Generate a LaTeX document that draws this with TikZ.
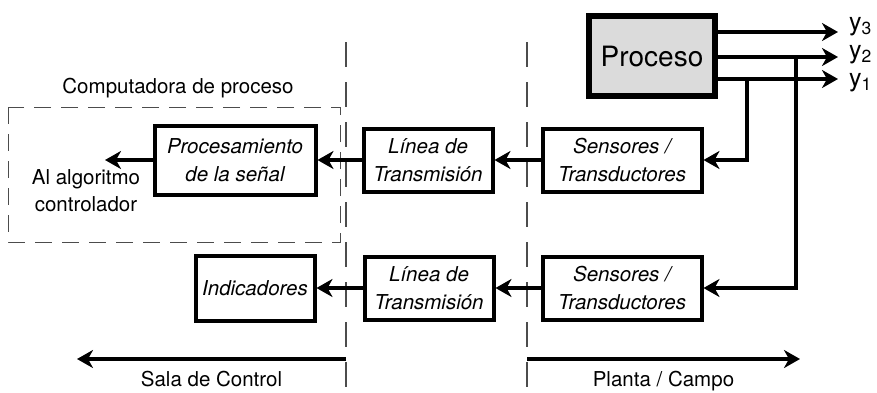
\documentclass[tikz,border=0pt]{standalone}
\usepackage{fontspec}
\setmainfont{TeX Gyre Heros}
\usetikzlibrary{positioning,arrows.meta}

\begin{document}
\begin{tikzpicture}[
    x=1pt, y=-1pt,
    node distance=128pt,
    box/.style={
        rectangle,
        draw,
        line width=4pt,
        minimum width=159pt,
        minimum height=63pt,
        inner sep=2pt,
        align=center,
        font=\fontsize{20.5}{28}\selectfont\itshape
    },
    arrow/.style={-{Stealth[length=16pt,width=18pt,inset=5pt]}, line width=4pt},
    txt/.style={font=\fontsize{20.5}{27}\selectfont, align=center},
    ylab/.style={font=\fontsize{25}{27}\selectfont, anchor=mid west, inner sep=0pt},
    zone/.style={gray!60!black, line width=1.2pt, dash pattern=on 25pt off 15pt}
]
\useasboundingbox (0,0) rectangle (877,392);

% Nodes
\node[box, minimum width=126pt, minimum height=80pt, line width=6.5pt,
      fill=gray!28, font=\fontsize{28}{30}\selectfont] (plant) at (652,56) {Proceso};

\node[box] (sens1) at (622,160) {Sensores /\\Transductores};
\node[box, below of=sens1] (sens2) {Sensores /\\Transductores};

\node[box, minimum width=129pt, left of=sens1, node distance=194pt] (lin1) {Línea de\\Transmisión};
\node[box, minimum width=129pt, left of=sens2, node distance=193pt] (lin2) {Línea de\\Transmisión};

\node[box, minimum width=161pt, minimum height=69pt, left of=lin1, node distance=193pt] (sig) {Procesamiento\\de la señal};
\node[box, minimum width=119pt, minimum height=65pt, left of=lin2, node distance=174pt] (ind) {Indicadores};

\node[txt] (comp) at (178,88) {Computadora de proceso};
\node[txt] (alg) at (86,191) {Al algoritmo\\controlador};

% Zones
\draw[zone] (346,42) -- (346,392);
\draw[zone] (527,42) -- (527,392);
\draw[gray!60!black, line width=1pt, dash pattern=on 17pt off 10pt] (8,107) rectangle (340,242);

% Outputs
\coordinate (y3) at (838,32);
\coordinate (y2) at (838,57);
\coordinate (y1) at (838,79);
\draw[arrow] (plant.east |- y3) -- (y3);
\draw[arrow] (plant.east |- y2) -- (y2);
\draw[arrow] (plant.east |- y1) -- (y1);
\node[ylab] (ly3) at (849,28) {y\textsubscript{3}};
\node[ylab] (ly2) at (849,56) {y\textsubscript{2}};
\node[ylab] (ly1) at (849,84) {y\textsubscript{1}};

% Arrows
\coordinate (tap1) at (747,79);
\coordinate (tap2) at (796,57);
\draw[arrow] (tap1) |- (sens1.east);
\draw[arrow] (tap2) |- (sens2.east);
\draw[arrow] (sens1) -- (lin1);
\draw[arrow] (lin1) -- (sig);
\draw[arrow] (sens2) -- (lin2);
\draw[arrow] (lin2) -- (ind);
\coordinate (algin) at (105,160);
\draw[arrow] (sig.west) -- (algin);

% Areas
\coordinate (salastart) at (346,359);
\coordinate (salaend) at (77,359);
\coordinate (plantastart) at (527,359);
\coordinate (plantaend) at (800,359);
\draw[arrow] (salastart) -- node[txt, below, yshift=-7pt] {Sala de Control} (salaend);
\draw[arrow] (plantastart) -- node[txt, below, yshift=-7pt] {Planta / Campo} (plantaend);

\end{tikzpicture}
\end{document}
